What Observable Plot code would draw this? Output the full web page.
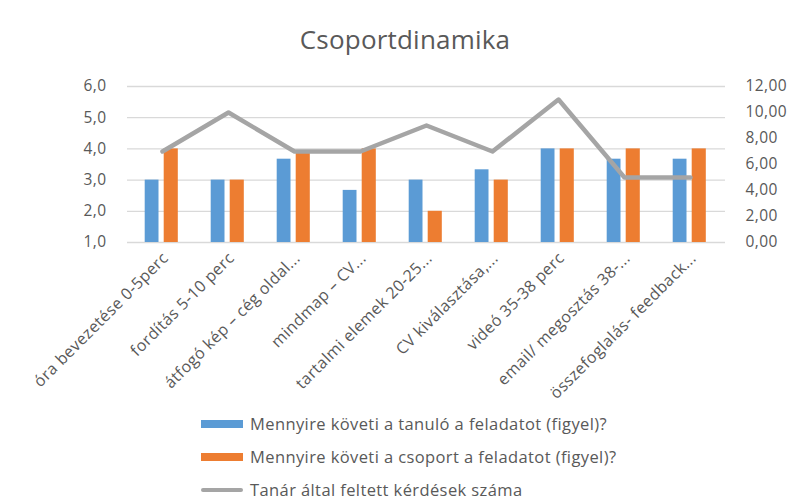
<!DOCTYPE html>
<html><head><meta charset="utf-8">
<script src="https://cdn.jsdelivr.net/npm/d3@7"></script>
<script src="https://cdn.jsdelivr.net/npm/@observablehq/plot@0.6"></script>
<style>
body{margin:0;background:#fff;font-family:"Open Sans",sans-serif;}
#wrap{position:relative;width:791px;height:501px;overflow:hidden;background:#fff}
#title{position:absolute;top:22px;left:0;width:810px;text-align:center;font-size:26px;color:#595959;line-height:34px;letter-spacing:0.2px}
#chart{position:absolute;top:0;left:0}
#legend{position:absolute;left:201px;top:407px;font-size:16.5px;color:#595959;letter-spacing:0.4px}
.row{display:flex;align-items:center;height:33px}
.sw{width:42px;height:8px;margin-right:7px}
.ln{width:42px;height:4px;margin-right:7px;background:#a5a5a5;border-radius:2px}
#chart svg text{letter-spacing:0.4px}
</style></head>
<body>
<div id="wrap">
<div id="chart"></div>
<div id="title">Csoportdinamika</div>
<div id="legend"></div>
</div>
<script>
const categories = [
  "óra bevezetése 0-5perc",
  "fordítás 5-10 perc",
  "átfogó kép – cég oldal...",
  "mindmap – CV...",
  "tartalmi elemek 20-25...",
  "CV kiválasztása,...",
  "videó 35-38 perc",
  "email/ megosztás 38-...",
  "összefoglalás- feedback..."
];
const tanulo = [3, 3, 3.67, 2.67, 3, 3.33, 4, 3.67, 3.67];
const csoport = [4, 3, 3.9, 4, 2, 3, 4, 4, 4];
const kerdesek = [7, 10, 7, 7, 9, 7, 11, 5, 5];
const leftTicks = [1, 2, 3, 4, 5, 6];
const rightTicks = [0, 2, 4, 6, 8, 10, 12];
const seriesNames = [
  "Mennyire követi a tanuló a feladatot (figyel)?",
  "Mennyire követi a csoport a feladatot (figyel)?",
  "Tanár által feltett kérdések száma"
];
const colors = ["#5b9bd5", "#ed7d31", "#a5a5a5"];

const rows = categories.map((c, i) => ({cat: c, a: tanulo[i], b: csoport[i], q: kerdesek[i]}));
const toLeft = v => 1 + v * (leftTicks[leftTicks.length-1] - leftTicks[0]) / rightTicks[rightTicks.length-1];
const fromLeft = d => (d - 1) * rightTicks[rightTicks.length-1] / (leftTicks[leftTicks.length-1] - leftTicks[0]);

const chart = Plot.plot({
  width: 791, height: 410,
  marginTop: 86, marginBottom: 168, marginLeft: 127, marginRight: 66,
  style: {fontFamily: "Open Sans", fontSize: "15.5px", color: "#595959", background: "transparent"},
  x: {domain: categories, padding: 0, label: null},
  y: {domain: [1, 6], label: null},
  marks: [
    Plot.ruleY(leftTicks, {stroke: "#d9d9d9", strokeWidth: 1.3}),
    Plot.barY(rows, {x: "cat", y1: 1, y2: "a", fill: colors[0], insetLeft: 15.7, insetRight: 36.5}),
    Plot.barY(rows, {x: "cat", y1: 1, y2: "b", fill: colors[1], insetLeft: 34.7, insetRight: 17.2}),
    Plot.line(rows, {x: "cat", y: d => toLeft(d.q), stroke: colors[2], strokeWidth: 4.5}),
    Plot.axisY(leftTicks, {anchor: "left", tickSize: 0, tickPadding: 21, tickFormat: d => d.toFixed(1).replace(".", ","), label: null}),
    Plot.axisY(rightTicks.map(toLeft), {anchor: "right", tickSize: 0, tickPadding: 20, tickFormat: d => fromLeft(d).toFixed(2).replace(".", ","), label: null}),
    Plot.axisX({tickSize: 0, tickRotate: -45, tickPadding: 13, dx: 3, fontSize: "16px", label: null})
  ]
});
document.getElementById("chart").appendChild(chart);

const legend = document.getElementById("legend");
seriesNames.forEach((n, i) => {
  const r = document.createElement("div");
  r.className = "row";
  const s = document.createElement("div");
  if (i < 2) { s.className = "sw"; s.style.background = colors[i]; } else { s.className = "ln"; }
  const t = document.createElement("span");
  t.textContent = n;
  r.appendChild(s); r.appendChild(t);
  legend.appendChild(r);
});
</script>
</body></html>
